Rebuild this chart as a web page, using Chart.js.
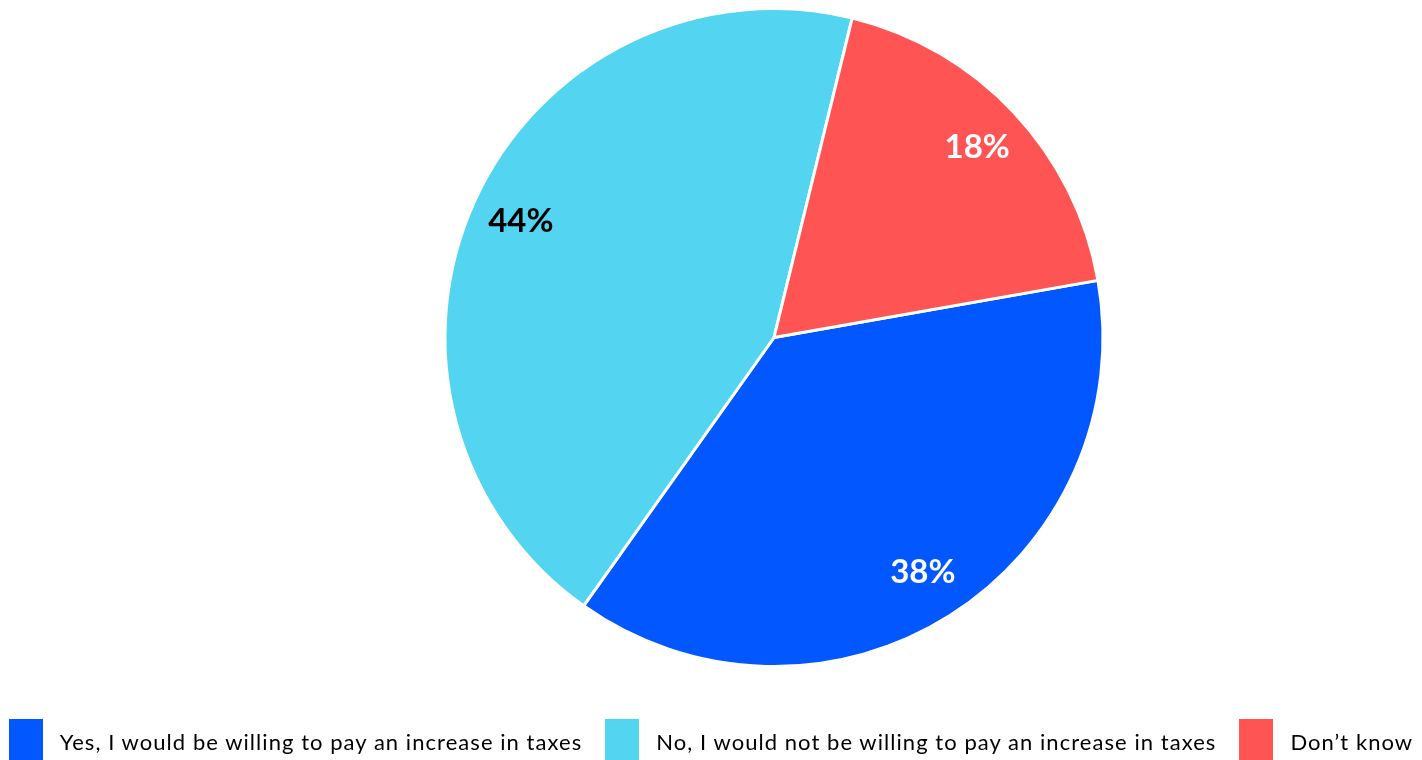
<!DOCTYPE html>
<html>
<head>
<meta charset="utf-8">
<script src="https://cdn.jsdelivr.net/npm/chart.js@4.4.1/dist/chart.umd.min.js"></script>
<style>
  html, body { margin: 0; padding: 0; background: #fff; overflow: hidden; }
  #wrap { position: relative; width: 1422px; height: 760px; }
  #legend {
    position: absolute; left: 0; right: 0; top: 719px;
    display: flex; justify-content: center; align-items: center;
    font-family: Lato, sans-serif; font-size: 22px; letter-spacing: 1.05px; color: #000;
    white-space: nowrap;
  }
  .item { display: flex; align-items: center; margin: 0 11.5px; }
  .box { width: 34px; height: 44px; margin-right: 17px; }
</style>
</head>
<body>
<div id="wrap">
  <canvas id="pieChart" width="1422" height="760"></canvas>
  <div id="legend"></div>
</div>
<script>
const answers = [
  'Yes, I would be willing to pay an increase in taxes',
  'No, I would not be willing to pay an increase in taxes',
  'Don\u2019t know'
];
const shares = [37.6, 44.0, 18.4];
const sliceColors = ['#0357FF', '#53D4F1', '#FF5454'];
const textColors = ['#fff', '#000', '#fff'];

// percent labels drawn inside each slice
const sliceLabels = {
  id: 'sliceLabels',
  afterDatasetsDraw(chart) {
    const ctx = chart.ctx;
    const meta = chart.getDatasetMeta(0);
    ctx.save();
    ctx.font = 'bold 33px Lato, sans-serif';
    ctx.textAlign = 'center';
    ctx.textBaseline = 'middle';
    meta.data.forEach((arc, i) => {
      const p = arc.getProps(['x', 'y', 'startAngle', 'endAngle', 'outerRadius']);
      const mid = (p.startAngle + p.endAngle) / 2;
      const r = p.outerRadius * 0.846;
      ctx.fillStyle = textColors[i];
      ctx.fillText(Math.round(shares[i]) + '%', p.x + Math.cos(mid) * r, p.y + Math.sin(mid) * r);
    });
    ctx.restore();
  }
};

new Chart(document.getElementById('pieChart'), {
  type: 'pie',
  data: {
    labels: answers,
    datasets: [{
      data: shares,
      backgroundColor: sliceColors,
      borderColor: '#fff',
      borderWidth: 3
    }]
  },
  options: {
    responsive: false,
    animation: false,
    rotation: 80,
    layout: { padding: { top: 7, bottom: 92, left: 126, right: 0 } },
    plugins: {
      legend: { display: false },
      tooltip: { enabled: false }
    }
  },
  plugins: [sliceLabels]
});

const legend = document.getElementById('legend');
answers.forEach((a, i) => {
  const item = document.createElement('div');
  item.className = 'item';
  item.innerHTML = `<span class="box" style="background:${sliceColors[i]}"></span><span>${a}</span>`;
  legend.appendChild(item);
});
</script>
</body>
</html>
